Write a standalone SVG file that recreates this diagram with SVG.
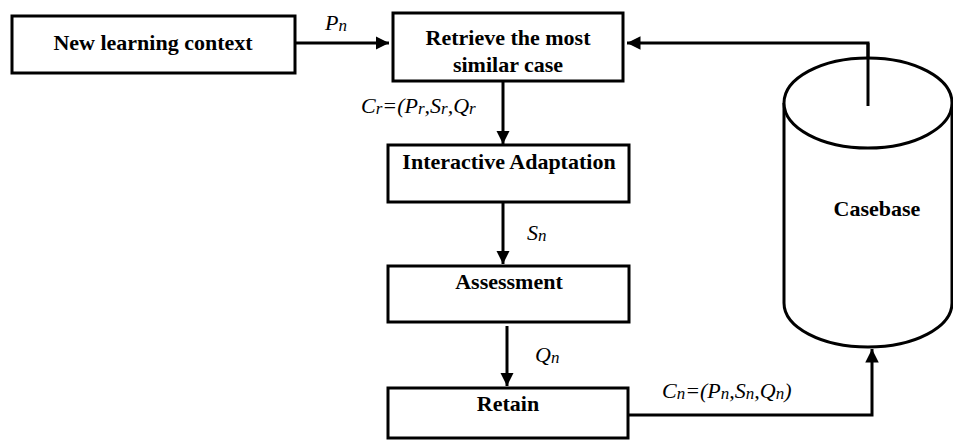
<svg xmlns="http://www.w3.org/2000/svg" width="953" height="440" viewBox="0 0 953 440">
<style>
.box{fill:#fff;stroke:#000;stroke-width:3}
.t{font-family:"Liberation Serif","Times New Roman",serif;font-weight:bold;font-size:22px;text-anchor:middle;fill:#000}
.l{font-family:"Liberation Serif","Times New Roman",serif;font-style:italic;font-size:22px;fill:#000}
.s{font-size:17px}
.c{fill:none;stroke:#000;stroke-width:3}
</style>
<defs>
<marker id="ah" viewBox="0 0 10 10" refX="10" refY="5" markerWidth="4.5" markerHeight="4.5" orient="auto" markerUnits="strokeWidth">
<path d="M0,0 L10,5 L0,10 Z" fill="#000"/>
</marker>
</defs>
<rect width="953" height="440" fill="#fff"/>
<g id="connectors">
<path class="c" d="M295,43 H389" marker-end="url(#ah)"/>
<path class="c" d="M868,106 V43 H627" marker-end="url(#ah)"/>
<path class="c" d="M503,81 V144" marker-end="url(#ah)"/>
<path class="c" d="M503,202 V264" marker-end="url(#ah)"/>
<path class="c" d="M507,326 V386" marker-end="url(#ah)"/>
<path class="c" d="M628,415 H872 V349" marker-end="url(#ah)"/>
<text class="l" x="325" y="30">P<tspan class="s" dy="1">n</tspan></text>
<text class="l" x="361" y="113">C<tspan class="s" dy="1">r</tspan><tspan dy="-1">=(P</tspan><tspan class="s" dy="1">r</tspan><tspan dy="-1">,S</tspan><tspan class="s" dy="1">r</tspan><tspan dy="-1">,Q</tspan><tspan class="s" dy="1">r</tspan></text>
<text class="l" x="527" y="240">S<tspan class="s" dy="1">n</tspan></text>
<text class="l" x="535" y="362">Q<tspan class="s" dy="1">n</tspan></text>
<text class="l" x="662" y="398">C<tspan class="s" dy="1">n</tspan><tspan dy="-1">=(P</tspan><tspan class="s" dy="1">n</tspan><tspan dy="-1">,S</tspan><tspan class="s" dy="1">n</tspan><tspan dy="-1">,Q</tspan><tspan class="s" dy="1">n</tspan><tspan dy="-1">)</tspan></text>
</g>
<g id="new-learning-context">
<rect class="box" x="12" y="16" width="283" height="57"/>
<text class="t" x="153" y="50">New learning context</text>
</g>
<g id="retrieve">
<rect class="box" x="393" y="13" width="230" height="68"/>
<text class="t" x="508" y="45">Retrieve the most</text>
<text class="t" x="508" y="72">similar case</text>
</g>
<g id="interactive-adaptation">
<rect class="box" x="388" y="145" width="241" height="57"/>
<text class="t" x="509" y="169">Interactive Adaptation</text>
</g>
<g id="assessment">
<rect class="box" x="388" y="266" width="241" height="56"/>
<text class="t" x="509" y="289">Assessment</text>
</g>
<g id="retain">
<rect class="box" x="388" y="388" width="240" height="50"/>
<text class="t" x="508" y="411">Retain</text>
</g>
<g id="casebase">
<path class="box" d="M784,103 V303 A84,44 0 0 0 952,303 V103"/>
<ellipse class="box" cx="868" cy="103" rx="84" ry="45"/>
<path class="c" d="M868,43 V106"/>
<text class="t" x="877" y="216">Casebase</text>
</g>
</svg>
